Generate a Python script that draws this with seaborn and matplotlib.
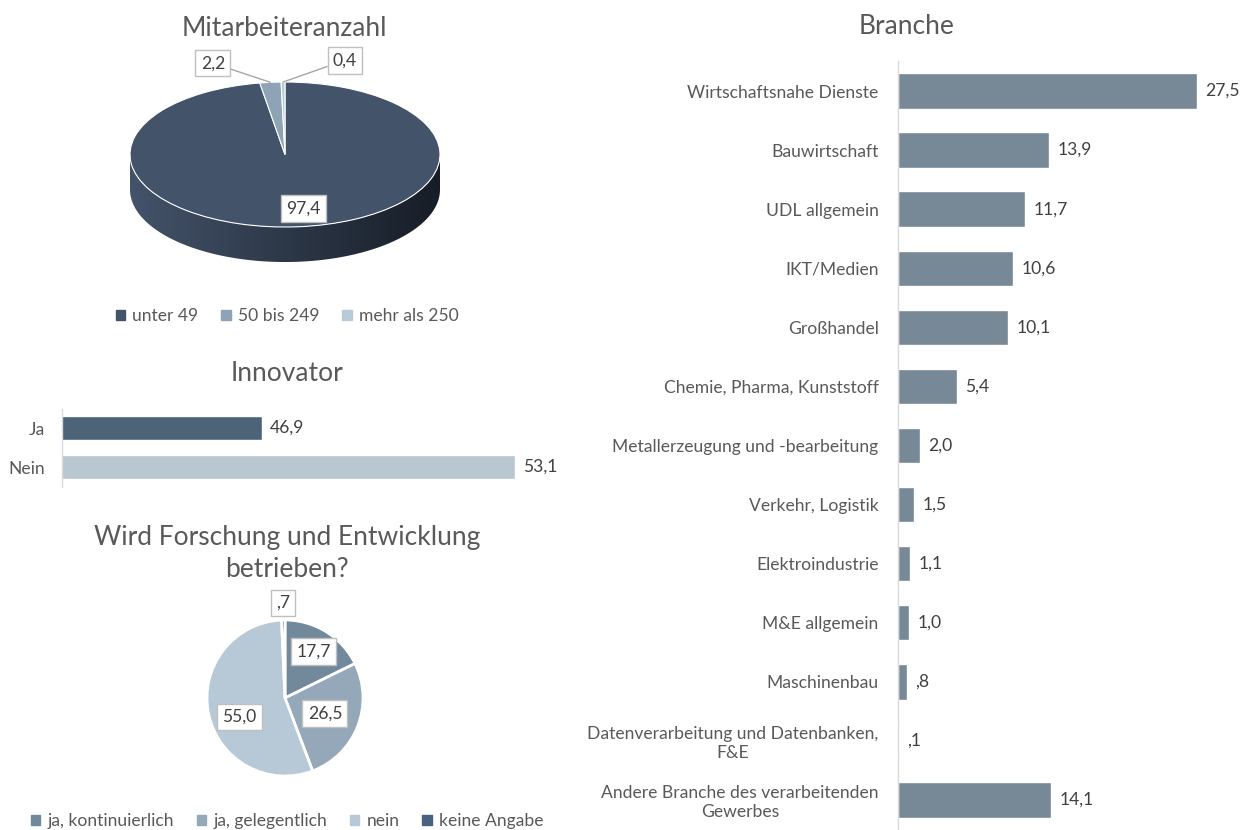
# Survey overview: company size, innovator share, R&D activity and industry sectors
import matplotlib.pyplot as plt
import numpy as np
import seaborn as sns
from matplotlib.colors import LinearSegmentedColormap
from matplotlib.patches import Patch, Polygon

# ================ Data ================
mit_labels = ["unter 49", "50 bis 249", "mehr als 250"]
mit_values = [97.4, 2.2, 0.4]

inno_cats = ["Ja", "Nein"]
inno_values = [46.9, 53.1]

fe_labels = ["ja, kontinuierlich", "ja, gelegentlich", "nein", "keine Angabe"]
fe_values = [17.7, 26.5, 55.0, 0.7]

branche_cats = [
    "Wirtschaftsnahe Dienste",
    "Bauwirtschaft",
    "UDL allgemein",
    "IKT/Medien",
    "Großhandel",
    "Chemie, Pharma, Kunststoff",
    "Metallerzeugung und -bearbeitung",
    "Verkehr, Logistik",
    "Elektroindustrie",
    "M&E allgemein",
    "Maschinenbau",
    "Datenverarbeitung und Datenbanken,\nF&E",
    "Andere Branche des verarbeitenden\nGewerbes",
]
branche_values = [27.5, 13.9, 11.7, 10.6, 10.1, 5.4, 2.0, 1.5, 1.1, 1.0, 0.8, 0.1, 14.1]

# ================ Style ================
MIT_COLORS = ["#43536a", "#8ea3b5", "#b9cad8"]
INNO_COLORS = ["#46647f", "#b5c7d5"]
FE_COLORS = ["#72899c", "#94a8ba", "#b7c8d6", "#46647f"]
BAR_COLOR = "#72899c"
TXT = "#595959"
VAL = "#404040"
SPINE = "#d9d9d9"
BOX = dict(boxstyle="square,pad=0.3", facecolor="white", edgecolor="#bfbfbf", linewidth=1)
FS = 12.6      # labels, values, legends
TFS = 19       # titles

sns.set_theme(style="white")
plt.rcParams["font.family"] = ["Lato", "DejaVu Sans"]

W, H = 1244, 830


def fx(px):
    return px / W


def fy(py):
    return 1 - py / H


def fmt(v, lead_zero=False):
    s = f"{v:.1f}".replace(".", ",")
    if v < 1 and not lead_zero:
        s = s[1:]
    return s


def mid_angles(values):
    vals = np.asarray(values, dtype=float)
    cum = np.cumsum(vals) / vals.sum()
    return np.deg2rad(90 - 360 * (cum - vals / vals.sum() / 2))


fig = plt.figure(figsize=(W / 100, H / 100), dpi=100)

# ================ Mitarbeiteranzahl (pseudo 3D pie) ================
ax1 = fig.add_axes([fx(91.25), fy(285), 387.5 / W, 221.1 / H])
depth = 0.483
theta = np.linspace(np.pi, 2 * np.pi, 200)
rim_top = np.column_stack([np.cos(theta), np.sin(theta)])
rim_bot = np.column_stack([np.cos(theta[::-1]), np.sin(theta[::-1]) - depth])
side = Polygon(np.vstack([rim_top, rim_bot]), closed=True, facecolor="none", edgecolor="none")
ax1.add_patch(side)
side_cmap = LinearSegmentedColormap.from_list("side", ["#44536a", "#2d3848", "#171d27"])
grad = np.linspace(0, 1, 256).reshape(1, -1)
im = ax1.imshow(grad, extent=(-1, 1, -1 - depth, 0), aspect="auto", cmap=side_cmap, zorder=0)
im.set_clip_path(side)
ax1.pie(
    mit_values,
    colors=MIT_COLORS,
    startangle=90,
    counterclock=False,
    wedgeprops=dict(edgecolor="white", linewidth=0.8),
)
ax1.set_aspect("auto")
ax1.set_xlim(-1.25, 1.25)
ax1.set_ylim(-1.8, 1.25)
ax1.axis("off")

ang = mid_angles(mit_values)
ax1.text(0.75 * np.cos(ang[0]) + 0.06, 0.75 * np.sin(ang[0]), fmt(mit_values[0]),
         ha="center", va="center", fontsize=FS, color=VAL, bbox=BOX)
for i, txt_xy in zip([1, 2], [(-0.465, 1.26), (0.387, 1.30)]):
    ax1.annotate(
        fmt(mit_values[i], lead_zero=True),
        xy=(np.cos(ang[i]), np.sin(ang[i])),
        xytext=txt_xy,
        ha="center", va="center", fontsize=FS, color=VAL, bbox=BOX,
        arrowprops=dict(arrowstyle="-", color="#a6a6a6", lw=1, shrinkA=0, shrinkB=0),
        annotation_clip=False,
    )

fig.text(fx(284), fy(28), "Mitarbeiteranzahl", ha="center", va="center", fontsize=TFS, color=TXT)
fig.legend(
    handles=[Patch(color=c, label=l) for c, l in zip(MIT_COLORS, mit_labels)],
    loc="center", bbox_to_anchor=(fx(287), fy(316)), ncol=3, frameon=False,
    fontsize=FS, handlelength=0.55, handleheight=0.55, handletextpad=0.4,
    columnspacing=1.3, labelcolor=TXT,
)

# ================ Innovator ================
ax2 = fig.add_axes([fx(62), fy(486.5), (572 - 62) / W, (486.5 - 408.5) / H])
sns.barplot(x=inno_values, y=inno_cats, hue=inno_cats, palette=INNO_COLORS,
            legend=False, width=0.62, orient="h", ax=ax2)
ax2.set_xlim(42, 54.5)
ax2.set_ylim(len(inno_cats) - 0.5, -0.5)
for cont in ax2.containers:
    ax2.bar_label(cont, labels=[fmt(b.get_width()) for b in cont], padding=6,
                  fontsize=FS, color=VAL)
fig.text(fx(287), fy(373), "Innovator", ha="center", va="center", fontsize=TFS, color=TXT)

# ================ Forschung und Entwicklung ================
ax3 = fig.add_axes([fx(187.5), fy(795.5), 195 / W, 195 / H])
ax3.pie(
    fe_values,
    colors=FE_COLORS,
    startangle=90,
    counterclock=False,
    wedgeprops=dict(edgecolor="white", linewidth=2),
)
ax3.set_xlim(-1.25, 1.25)
ax3.set_ylim(-1.25, 1.25)
ax3.set_aspect("equal")
ax3.axis("off")
ang = mid_angles(fe_values)
for a, v, r, dy in zip(ang, fe_values, [0.7, 0.55, 0.6, 1.22], [0, 0, -0.12, 0]):
    ax3.text(r * np.cos(a), r * np.sin(a) + dy, fmt(v), ha="center", va="center",
             fontsize=FS, color=VAL, bbox=BOX, clip_on=False)

fig.text(fx(287), fy(553), "Wird Forschung und Entwicklung\nbetrieben?", ha="center",
         va="center", fontsize=TFS, color=TXT, linespacing=1.35)
fig.legend(
    handles=[Patch(color=c, label=l) for c, l in zip(FE_COLORS, fe_labels)],
    loc="center", bbox_to_anchor=(fx(287), fy(821)), ncol=4, frameon=False,
    fontsize=FS, handlelength=0.55, handleheight=0.55, handletextpad=0.4,
    columnspacing=1.3, labelcolor=TXT,
)

# ================ Branche ================
ax4 = fig.add_axes([fx(898), fy(829.5), 337 / W, (829.5 - 61.5) / H])
sns.barplot(x=branche_values, y=branche_cats, color=BAR_COLOR, width=0.6, orient="h", ax=ax4)
ax4.set_xlim(0, 31)
ax4.set_ylim(len(branche_cats) - 0.5, -0.5)
ax4.bar_label(ax4.containers[0], labels=[fmt(v) for v in branche_values], padding=6,
              fontsize=FS, color=VAL)
fig.text(fx(907), fy(27), "Branche", ha="center", va="center", fontsize=TFS, color=TXT)

for ax, pad in [(ax2, 12), (ax4, 14)]:
    ax.set_xlabel("")
    ax.set_ylabel("")
    ax.set_xticks([])
    ax.tick_params(axis="y", length=0, pad=pad, labelsize=FS, labelcolor=TXT)
    for lab in ax.get_yticklabels():
        lab.set_multialignment("center")
    for s in ["top", "right", "bottom"]:
        ax.spines[s].set_visible(False)
    ax.spines["left"].set_color(SPINE)
    ax.spines["left"].set_linewidth(1)
    ax.set_facecolor("none")

fig.savefig("out.png", dpi=100)
